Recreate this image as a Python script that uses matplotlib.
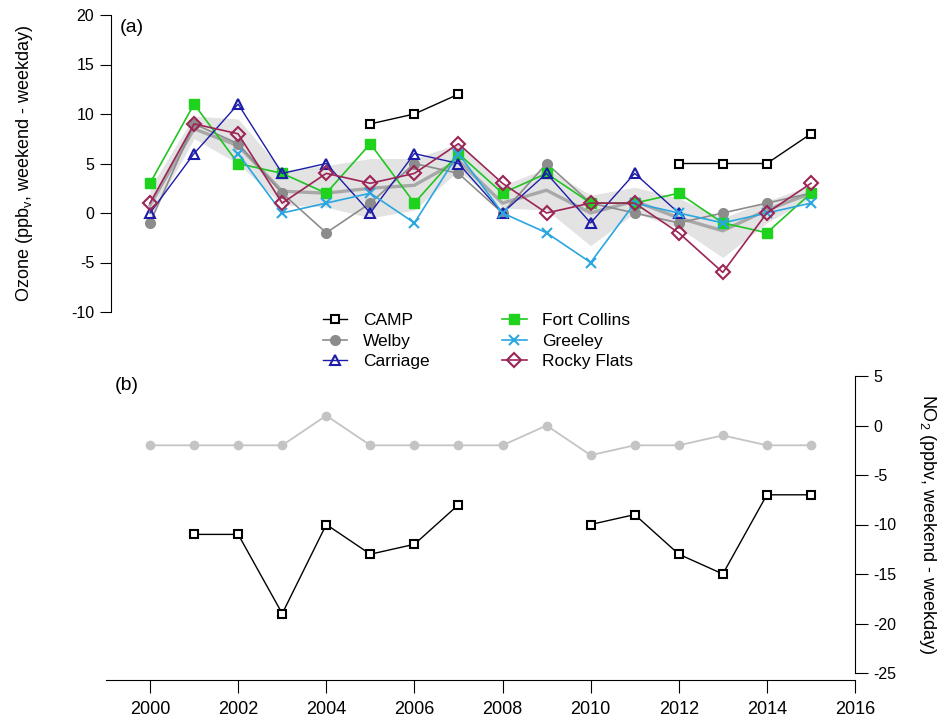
import numpy as np
import matplotlib.pyplot as plt

plt.rcParams["font.family"] = ["Liberation Sans", "DejaVu Sans"]
plt.rcParams["axes.unicode_minus"] = False

years = np.arange(2000, 2016)
nan = np.nan

# (a) Ozone weekend - weekday (ppbv)
o3_camp = [nan, nan, nan, nan, nan, 9, 10, 12, nan, nan, nan, nan, 5, 5, 5, 8]
o3_welby = [-1, 9, 7, 2, -2, 1, 5, 4, 0, 5, 1, 0, -1, 0, 1, 2]
o3_carriage = [0, 6, 11, 4, 5, 0, 6, 5, 0, 4, -1, 4, 0, nan, nan, nan]
o3_fort_collins = [3, 11, 5, 4, 2, 7, 1, 6, 2, 4, 1, 1, 2, -1, -2, 2]
o3_greeley = [nan, nan, 6, 0, 1, 2, -1, 6, 0, -2, -5, 1, 0, -1, 0, 1]
o3_rocky_flats = [1, 9, 8, 1, 4, 3, 4, 7, 3, 0, 1, 1, -2, -6, 0, 3]
o3_mean = [0.8, 8.5, 6.8, 2.2, 2.0, 2.5, 2.8, 5.3, 1.0, 2.3, 0.0, 1.2, -0.5, -1.8, 0.3, 2.0]
o3_band_lo = [-0.5, 7.5, 5.0, 0.8, 0.6, -0.5, 0.3, 4.3, 0.5, 0.3, -3.3, 0.0, -1.5, -4.5, -1.0, 1.5]
o3_band_hi = [2.5, 9.8, 9.5, 4.3, 4.8, 5.5, 5.5, 7.0, 2.8, 4.5, 1.8, 2.6, 1.5, -0.5, 1.2, 2.8]

# (b) NO2 weekend - weekday (ppbv)
no2_welby = [-2, -2, -2, -2, 1, -2, -2, -2, -2, 0, -3, -2, -2, -1, -2, -2]
no2_camp = [nan, -11, -11, -19, -10, -13, -12, -8, nan, nan, -10, -9, -13, -15, -7, -7]

W, H = 952, 723
fig = plt.figure(figsize=(W / 100, H / 100), dpi=100)

# top panel
ax1 = fig.add_axes([111 / W, 1 - 312 / H, (855 - 111) / W, 297 / H])
ax1.set_xlim(2000 - 39 / 44.06, 2016)
ax1.set_ylim(-10, 20)
for s in ["top", "right", "bottom"]:
    ax1.spines[s].set_visible(False)
ax1.set_xticks([])
ax1.set_yticks(np.arange(-10, 21, 5))
ax1.tick_params(axis="y", direction="out", length=8, labelsize=11.5, pad=4)
ax1.set_ylabel("Ozone (ppb$_\\mathregular{v}$, weekend - weekday)", fontsize=13, labelpad=26)

ax1.fill_between(years, o3_band_lo, o3_band_hi, color="#e3e3e3", lw=0, zorder=1)
ax1.plot(years, o3_mean, color="#a8a8a8", lw=2.4, zorder=2)

lines = []
lines += ax1.plot(years, o3_camp, color="black", lw=1, marker="s", ms=6,
                  mfc="white", mec="black", mew=1.5, label="CAMP", zorder=5)
lines += ax1.plot(years, o3_welby, color="#8c8c8c", lw=1.2, marker="o", ms=7,
                  mfc="#8c8c8c", mec="#8c8c8c", label="Welby", zorder=3)
lines += ax1.plot(years, o3_carriage, color="#1c1ca8", lw=1, marker="^", ms=7.5,
                  mfc="none", mec="#1c1ca8", mew=1.5, label="Carriage", zorder=4)
lines_b = []
lines_b += ax1.plot(years, o3_fort_collins, color="#22c422", lw=1.2, marker="s", ms=6.5,
                    mfc="#1ed21e", mec="#1ed21e", label="Fort Collins", zorder=3)
lines_b += ax1.plot(years, o3_greeley, color="#2aa6e0", lw=1.2, marker="x", ms=7,
                    mew=1.5, label="Greeley", zorder=4)
lines_b += ax1.plot(years, o3_rocky_flats, color="#9c2456", lw=1.2, marker="D", ms=7,
                    mfc="none", mec="#9c2456", mew=1.5, label="Rocky Flats", zorder=4)

ax1.text(0.012, 0.985, "(a)", transform=ax1.transAxes, fontsize=14, va="top")

handles = lines + lines_b
fig.legend(handles, [h.get_label() for h in handles], ncol=2, frameon=False,
           fontsize=12.5, loc="center", bbox_to_anchor=(478 / W, 1 - 341 / H),
           columnspacing=4.2, handlelength=1.4, labelspacing=0.3, handletextpad=0.9)

# bottom panel
ax2 = fig.add_axes([106 / W, 1 - 673 / H, (855 - 106) / W, 297 / H])
ax2.set_xlim(1999, 2016)
ax2.set_ylim(-25, 5)
ax2.spines["top"].set_visible(False)
ax2.spines["left"].set_visible(False)
ax2.spines["bottom"].set_position(("outward", 5))
ax2.yaxis.tick_right()
ax2.yaxis.set_label_position("right")
ax2.set_yticks(np.arange(-25, 6, 5))
ax2.set_xticks(np.arange(2000, 2017, 2))
ax2.tick_params(axis="y", direction="out", length=9, labelsize=11.5, pad=4)
ax2.tick_params(axis="x", direction="out", length=9.5, labelsize=13, pad=6)
ax2.set_ylabel("NO$_\\mathregular{2}$ (ppbv, weekend - weekday)", fontsize=13,
               rotation=270, labelpad=30)

ax2.plot(years, no2_welby, color="#c4c4c4", lw=1.3, marker="o", ms=6,
         mfc="#c4c4c4", mec="#c4c4c4")
ax2.plot(years, no2_camp, color="black", lw=1, marker="s", ms=6,
         mfc="white", mec="black", mew=1.5)

ax2.text(0.012, 0.995, "(b)", transform=ax2.transAxes, fontsize=14, va="top")

fig.savefig("out.png", dpi=100)
